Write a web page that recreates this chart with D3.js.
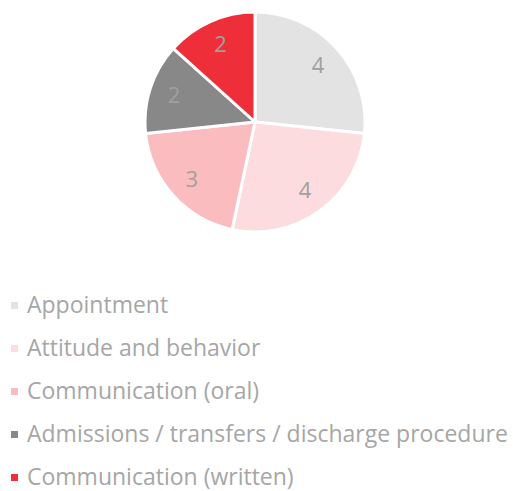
<!DOCTYPE html>
<html>
<head>
<meta charset="utf-8">
<script src="https://cdn.jsdelivr.net/npm/d3@7"></script>
<style>
  body { margin: 0; background: #fff; }
</style>
</head>
<body>
<div id="chart"></div>
<script>
const categories = ["Appointment", "Attitude and behavior", "Communication (oral)", "Admissions / transfers / discharge procedure", "Communication (written)"];
const values = [4, 4, 3, 2, 2];
const colors = ["#e3e3e3", "#fcdcdf", "#fbbcbf", "#888888", "#ee2e38"];

const width = 513, height = 491;
const cx = 255, cy = 122, radius = 110;

const svg = d3.select("#chart")
	.append("svg")
	.attr("width", width)
	.attr("height", height)
	.style("font-family", "'Open Sans', sans-serif");

const pie = d3.pie().sort(null).value(function(d){ return d; });
const arcs = pie(values);

const arc = d3.arc().innerRadius(0).outerRadius(radius);
const labelArc = d3.arc().innerRadius(85).outerRadius(85);

const g = svg.append("g").attr("transform", "translate(" + cx + "," + cy + ")");

g.selectAll("path")
	.data(arcs)
	.enter()
	.append("path")
	.attr("d", arc)
	.attr("fill", function(d, i){ return colors[i]; })
	.style("stroke", "#fff")
	.style("stroke-width", 3)
	.style("stroke-linejoin", "round");

g.selectAll("text")
	.data(arcs)
	.enter()
	.append("text")
	.attr("transform", function(d){ return "translate(" + labelArc.centroid(d) + ")"; })
	.attr("text-anchor", "middle")
	.attr("dy", "0.35em")
	.attr("fill", "#a0a0a0")
	.style("font-size", "22px")
	.text(function(d){ return d.data; });

// legende
const legend = svg.append("g");
const rowY = d3.scalePoint().domain(categories).range([305, 477]);

const rows = legend.selectAll("g")
	.data(categories)
	.enter()
	.append("g")
	.attr("transform", function(d){ return "translate(0," + rowY(d) + ")"; });

rows.append("rect")
	.attr("x", 11)
	.attr("y", -3)
	.attr("width", 7)
	.attr("height", 7)
	.attr("fill", function(d, i){ return colors[i]; });

rows.append("text")
	.attr("x", 27)
	.attr("dy", "0.35em")
	.attr("fill", "#a6a6a6")
	.style("font-size", "23px")
	.text(function(d){ return d; });
</script>
</body>
</html>
